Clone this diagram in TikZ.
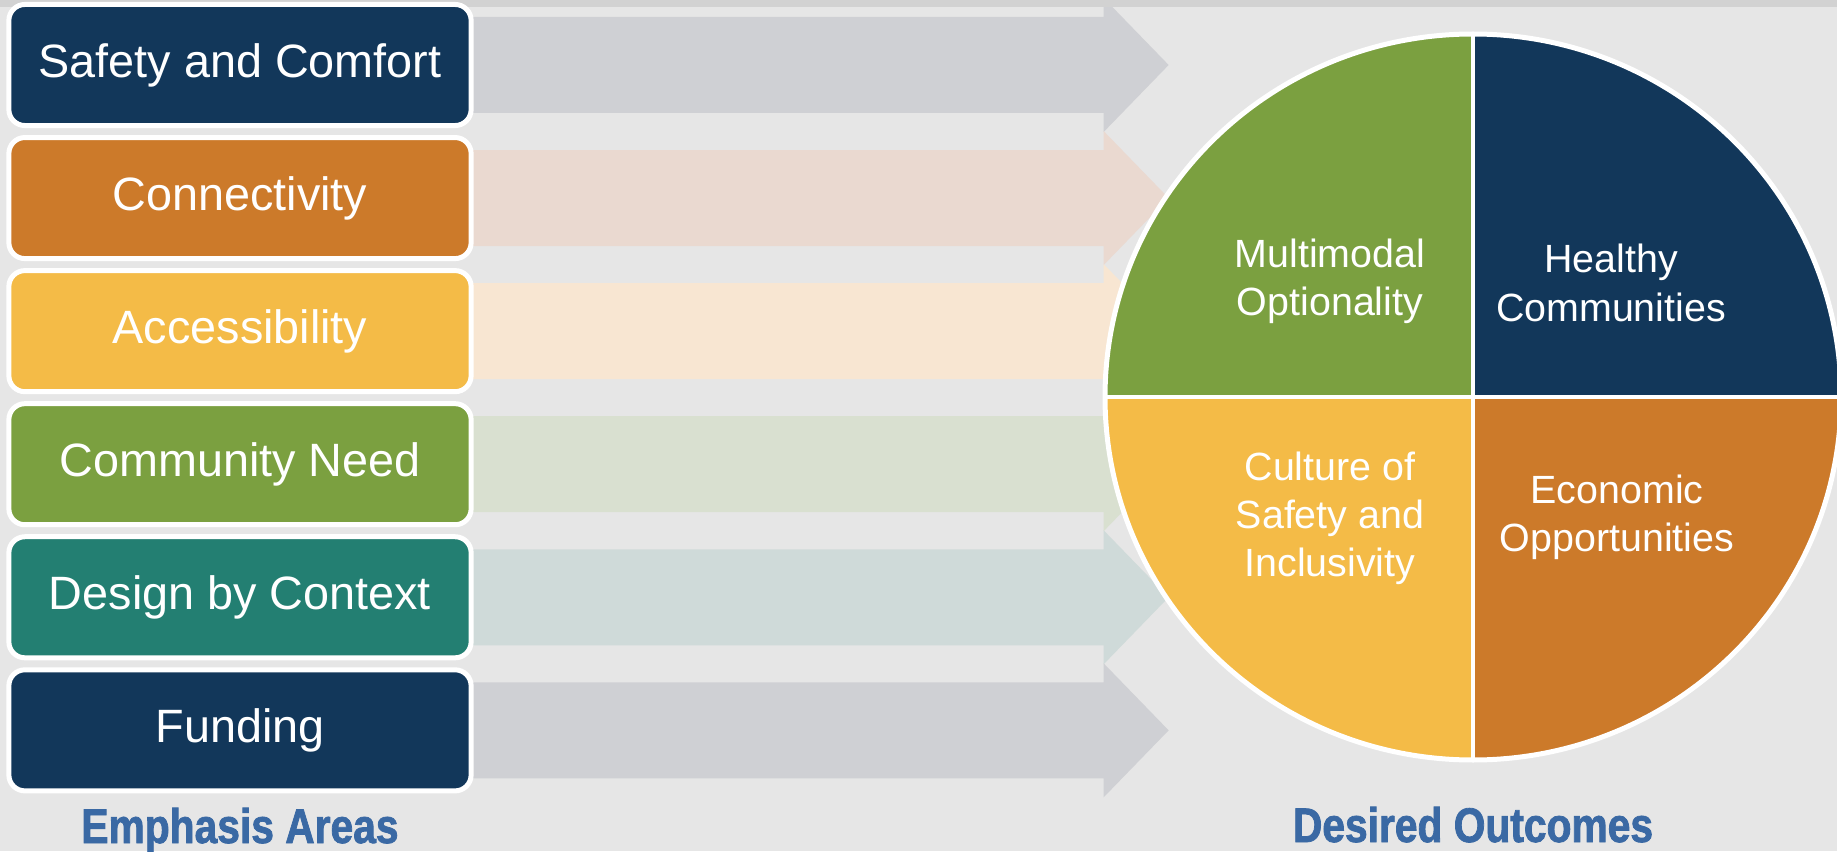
\documentclass[tikz,border=0pt]{standalone}
\usepackage{fontspec}
\setmainfont{Liberation Sans}
\newfontfamily\headfont{Liberation Sans}[FakeStretch=0.84,FakeBold=1.6]
\usepackage{tikz}
\usetikzlibrary{positioning}

\definecolor{navy}{HTML}{12375A}
\definecolor{rust}{HTML}{CC7A2A}
\definecolor{gold}{HTML}{F4BB47}
\definecolor{leaf}{HTML}{7BA040}
\definecolor{sea}{HTML}{237F72}
\definecolor{paper}{HTML}{E6E6E6}
\definecolor{band}{HTML}{D2D2D2}
\definecolor{headblue}{HTML}{3A69A4}
\definecolor{arrgray}{HTML}{CFD0D4}
\definecolor{arrrust}{HTML}{EAD9D0}
\definecolor{arrgold}{HTML}{F8E6D2}
\definecolor{arrleaf}{HTML}{D9E0D0}
\definecolor{arrsea}{HTML}{CFDAD9}

\pgfdeclarelayer{background}
\pgfsetlayers{background,main}

\begin{document}
\begin{tikzpicture}[x=0.01cm,y=0.01cm,node distance=0.07cm,
  area/.style={draw=white,line width=1.42pt,rounded corners=0.16cm,
    minimum width=4.62cm,minimum height=1.21cm,text=white,
    font=\fontsize{13.3}{16}\selectfont},
  outcome/.style={text=white,align=center,
    font=\fontsize{11.2}{13.7}\selectfont},
  heading/.style={anchor=base,text=headblue,
    font=\headfont\bfseries\fontsize{13.8}{16}\selectfont}]
  \clip (0,0) rectangle (1837,851);
  % emphasis areas, one box per row (pitch 133px)
  \node[area,fill=navy] (safety) at (240,786) {Safety and Comfort};
  \node[area,fill=rust,below=of safety] (connect) {Connectivity};
  \node[area,fill=gold,below=of connect] (access) {Accessibility};
  \node[area,fill=leaf,below=of access] (need) {Community Need};
  \node[area,fill=sea,below=of need] (context) {Design by Context};
  \node[area,fill=navy,below=of context] (funding) {Funding};

  % pale arrows running from each box towards the outcomes
  \begin{pgfonlayer}{background}
    \fill[paper] (0,0) rectangle (1837,851);
    \fill[arrgray] (safety.east) ++(-30,48) -- ++(660,0) -- ++(0,19) -- ++(65,-67)
      -- ++(-65,-67) -- ++(0,19) -- ++(-660,0) -- cycle;
    \fill[arrrust] (connect.east) ++(-30,48) -- ++(660,0) -- ++(0,19) -- ++(65,-67)
      -- ++(-65,-67) -- ++(0,19) -- ++(-660,0) -- cycle;
    \fill[arrgold] (access.east) ++(-30,48) -- ++(660,0) -- ++(0,19) -- ++(65,-67)
      -- ++(-65,-67) -- ++(0,19) -- ++(-660,0) -- cycle;
    \fill[arrleaf] (need.east) ++(-30,48) -- ++(660,0) -- ++(0,19) -- ++(65,-67)
      -- ++(-65,-67) -- ++(0,19) -- ++(-660,0) -- cycle;
    \fill[arrsea] (context.east) ++(-30,48) -- ++(660,0) -- ++(0,19) -- ++(65,-67)
      -- ++(-65,-67) -- ++(0,19) -- ++(-660,0) -- cycle;
    \fill[arrgray] (funding.east) ++(-30,48) -- ++(660,0) -- ++(0,19) -- ++(65,-67)
      -- ++(-65,-67) -- ++(0,19) -- ++(-660,0) -- cycle;
    \fill[band] (0,844) rectangle (1837,851);
  \end{pgfonlayer}

  % outcome pie, four quadrants with white rim and dividers
  \coordinate (hub) at (1473,454);
  \fill[leaf] (hub) -- ++(0,363) arc[start angle=90,end angle=180,x radius=368,y radius=363] -- cycle;
  \fill[navy] (hub) -- ++(368,0) arc[start angle=0,end angle=90,x radius=368,y radius=363] -- cycle;
  \fill[gold] (hub) -- ++(-368,0) arc[start angle=180,end angle=270,x radius=368,y radius=363] -- cycle;
  \fill[rust] (hub) -- ++(0,-363) arc[start angle=270,end angle=360,x radius=368,y radius=363] -- cycle;
  \draw[white,line width=1.2pt] (hub) ++(0,363) -- ++(0,-726);
  \draw[white,line width=1.2pt] (hub) ++(-368,0) -- ++(736,0);
  \draw[white,line width=1.42pt] (hub) ellipse[x radius=368,y radius=363];

  \node[outcome] (multimodal) at (1330,570) {Multimodal\\Optionality};
  \node[outcome] (healthy) at (1611,568) {Healthy\\Communities};
  \node[outcome] (culture) at (1330,333) {Culture of\\Safety and\\Inclusivity};
  \node[outcome] (economic) at (1617,334) {Economic\\Opportunities};

  % captions under the two columns
  \node[heading] (emphasis) at (240,8) {Emphasis Areas};
  \node[heading] (desired) at (1473,9) {Desired Outcomes};
\end{tikzpicture}
\end{document}
